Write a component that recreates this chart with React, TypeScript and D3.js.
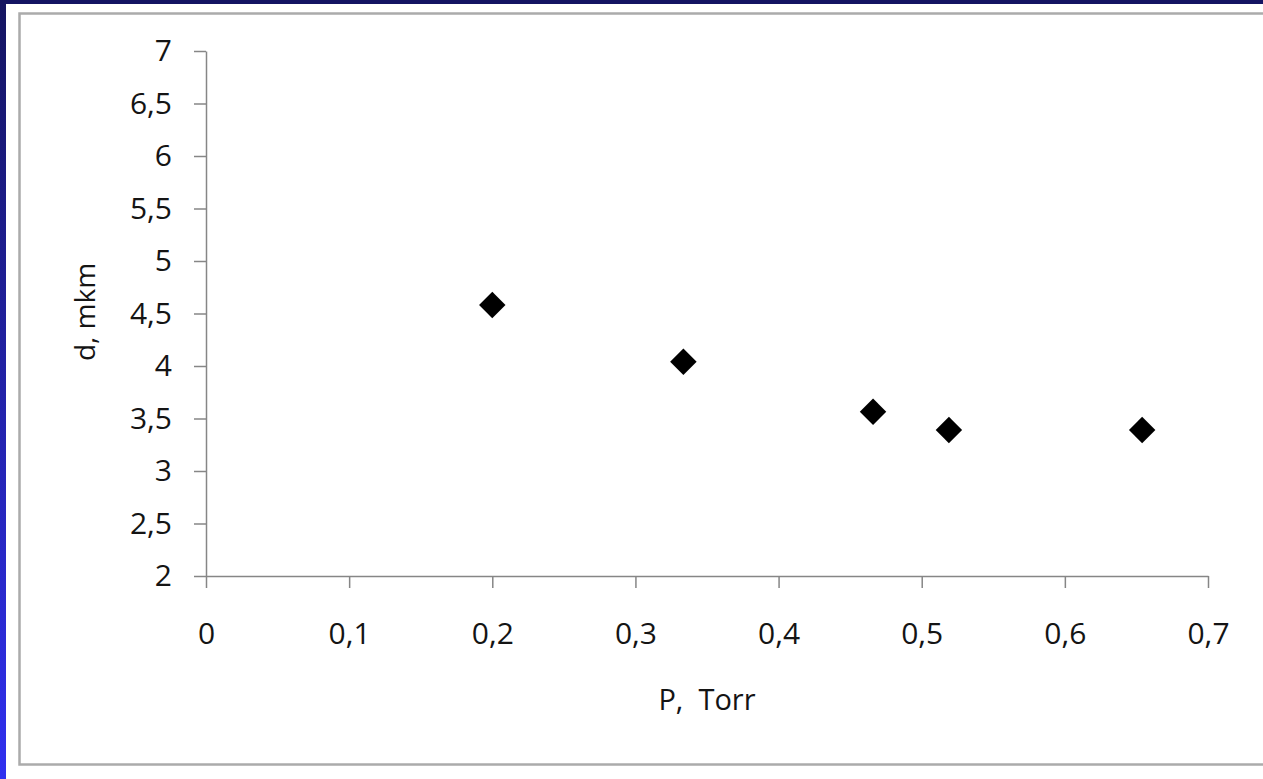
import React, { useRef, useEffect } from "react";
import * as d3 from "d3";

// pressure (Torr) and size (mkm)
const pressure = [0.2, 0.3335, 0.466, 0.519, 0.654];
const size = [4.58, 4.04, 3.565, 3.39, 3.39];
const xTicks = [0, 0.1, 0.2, 0.3, 0.4, 0.5, 0.6, 0.7];
const yTicks = [2, 2.5, 3, 3.5, 4, 4.5, 5, 5.5, 6, 6.5, 7];
const xTitle = "P,  Torr";
const yTitle = "d, mkm";

const W = 1263;
const H = 779;
const FONT = "'Open Sans', sans-serif";

export default function App() {
  const svgRef = useRef<SVGSVGElement>(null);

  useEffect(() => {
    const svg = d3.select(svgRef.current);
    svg.selectAll("*").remove();

    const locale = d3.formatLocale({
      decimal: ",",
      thousands: " ",
      grouping: [3],
      currency: ["", ""],
    });
    const fmt = locale.format(".1~f");

    const x = d3.scaleLinear().domain([0, 0.7]).range([206, 1208]);
    const y = d3.scaleLinear().domain([2, 7]).range([576, 51]);

    // slide background bits
    const grad = svg
      .append("defs")
      .append("linearGradient")
      .attr("id", "edge")
      .attr("x1", 0)
      .attr("y1", 0)
      .attr("x2", 0)
      .attr("y2", 1);
    grad.append("stop").attr("offset", "0%").attr("stop-color", "#141460");
    grad.append("stop").attr("offset", "100%").attr("stop-color", "#3030f0");

    svg.append("rect").attr("width", W).attr("height", H).attr("fill", "#fff");
    svg.append("rect").attr("width", W).attr("height", 4).attr("fill", "#141462");
    svg.append("rect").attr("width", 6).attr("height", H).attr("fill", "url(#edge)");

    // chart frame
    svg
      .append("rect")
      .attr("x", 19.5)
      .attr("y", 13.5)
      .attr("width", W + 20)
      .attr("height", 751)
      .attr("fill", "none")
      .attr("stroke", "#ababab")
      .attr("stroke-width", 2.5);

    // axes
    const xAxis = svg
      .append("g")
      .attr("transform", "translate(0,576)")
      .call(
        d3
          .axisBottom(x)
          .tickValues(xTicks)
          .tickFormat((d) => fmt(d as number))
          .tickSize(12)
          .tickPadding(35)
          .tickSizeOuter(0)
      );

    const yAxis = svg
      .append("g")
      .attr("transform", "translate(206,0)")
      .call(
        d3
          .axisLeft(y)
          .tickValues(yTicks)
          .tickFormat((d) => fmt(d as number))
          .tickSize(12)
          .tickPadding(22)
          .tickSizeOuter(0)
      );

    [xAxis, yAxis].forEach((g) => {
      g.select(".domain").attr("stroke", "#868686").attr("stroke-width", 1.5);
      g.selectAll(".tick line").attr("stroke", "#868686").attr("stroke-width", 1.5);
      g.selectAll(".tick text")
        .attr("fill", "#141414")
        .style("font-family", FONT)
        .style("font-size", "30px");
    });

    // points
    const diamond = d3.symbol(d3.symbolSquare, 350);
    svg
      .append("g")
      .selectAll("path")
      .data(pressure)
      .join("path")
      .attr("d", diamond)
      .attr(
        "transform",
        (d, i) => `translate(${x(d)},${y(size[i])}) rotate(45)`
      )
      .attr("fill", "#000");

    // axis titles
    svg
      .append("text")
      .attr("x", 707)
      .attr("y", 710)
      .attr("text-anchor", "middle")
      .attr("fill", "#141414")
      .style("font-family", FONT)
      .style("font-size", "29px")
      .style("white-space", "pre")
      .text(xTitle);

    svg
      .append("text")
      .attr("transform", "translate(95,312) rotate(-90)")
      .attr("text-anchor", "middle")
      .attr("fill", "#141414")
      .style("font-family", FONT)
      .style("font-size", "28px")
      .text(yTitle);
  }, []);

  return (
    <svg
      ref={svgRef}
      width={W}
      height={H}
      style={{ position: "absolute", left: 0, top: 0, display: "block" }}
    ></svg>
  );
}
